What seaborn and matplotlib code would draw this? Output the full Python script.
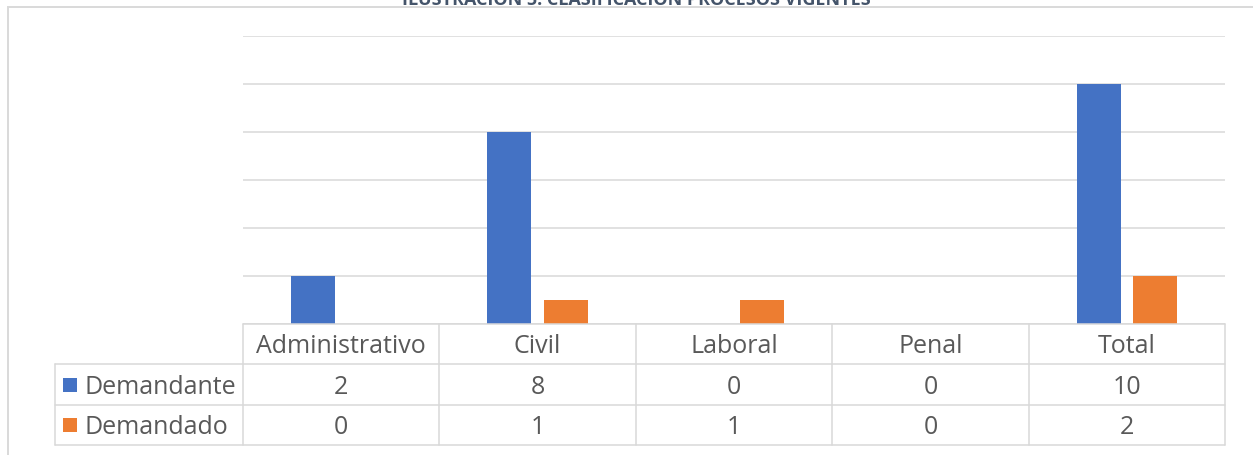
import numpy as np
import pandas as pd
import matplotlib.pyplot as plt
import seaborn as sns
from matplotlib.patches import Rectangle

categorias = ['Administrativo', 'Civil', 'Laboral', 'Penal', 'Total']
series = ['Demandante', 'Demandado']
demandante = [2, 8, 0, 0, 10]
demandado = [0, 1, 1, 0, 2]
colores = {'Demandante': '#4472C4', 'Demandado': '#ED7D31'}
titulo = 'ILUSTRACIÓN 5. CLASIFICACIÓN PROCESOS VIGENTES'

df = pd.DataFrame({
    'categoria': categorias * 2,
    'serie': ['Demandante'] * 5 + ['Demandado'] * 5,
    'valor': demandante + demandado,
})

sns.set_style('white')
plt.rcParams['font.family'] = ['Open Sans', 'DejaVu Sans']

W, H = 1253, 455
fig = plt.figure(figsize=(W / 100, H / 100), dpi=100)

# plot area
x0, x1, y0, y1 = 243, 1225, 36, 324
ax = fig.add_axes([x0 / W, 1 - y1 / H, (x1 - x0) / W, (y1 - y0) / H])
sns.barplot(data=df, x='categoria', y='valor', hue='serie', order=categorias,
            hue_order=series, palette=colores, saturation=1, width=0.576,
            gap=0.222, linewidth=0, legend=False, ax=ax)
ax.set_xlim(-0.5, len(categorias) - 0.5)
ax.set_ylim(0, 12)
ax.set_yticks(np.arange(0, 13, 2))
ax.yaxis.grid(True, color='#d9d9d9', lw=1.1)
ax.set_axisbelow(True)
ax.set_xticks([])
ax.set_yticklabels([])
ax.tick_params(left=False, bottom=False)
ax.set_xlabel('')
ax.set_ylabel('')
for s in ax.spines.values():
    s.set_visible(False)

# data table below the plot
t0, t1 = 55, 1225
leg_w = (x0 - t0) / ((x1 - x0) / len(categorias))
tax = fig.add_axes([t0 / W, 1 - 445 / H, (t1 - t0) / W, (445 - y1) / H])
tax.set_xlim(-0.5 - leg_w, len(categorias) - 0.5)
tax.set_ylim(3, 0)
tax.axis('off')
lc = '#d9d9d9'
lw = 1.1
tax.plot([-0.5, len(categorias) - 0.5], [0, 0], color=lc, lw=lw, clip_on=False)
for r in [1, 2, 3]:
    tax.plot([-0.5 - leg_w, len(categorias) - 0.5], [r, r], color=lc, lw=lw, clip_on=False)
tax.plot([-0.5 - leg_w] * 2, [1, 3], color=lc, lw=lw, clip_on=False)
for i in range(len(categorias) + 1):
    tax.plot([i - 0.5] * 2, [0, 3], color=lc, lw=lw, clip_on=False)

dy = 0.57  # text sits a little below the row middle
txt = dict(color='#595959', fontsize=18, ha='center', va='center')
for i, c in enumerate(categorias):
    tax.text(i, dy, c, **txt)
for r, (nombre, vals) in enumerate(zip(series, [demandante, demandado]), start=1):
    for i, v in enumerate(vals):
        tax.text(i, r + dy, str(v), **txt)
    tax.plot(-0.5 - leg_w + 0.074, r + 0.5, marker='s', ms=10.5, color=colores[nombre],
             mew=0, clip_on=False)
    tax.text(-0.5 - leg_w + 0.15, r + dy, nombre, color='#595959', fontsize=18,
             ha='left', va='center')

# outer chart frame and clipped title
fig.add_artist(Rectangle((8 / W, -0.2), 1.2, 1.2 - 7 / H, transform=fig.transFigure,
                         fill=False, edgecolor='#d9d9d9', lw=1.4))
fig.text(636 / W, 1 - 5 / H, titulo, ha='center', va='baseline', fontsize=13,
         fontweight='bold', color='#44546A')

fig.savefig('out.png', dpi=100)
